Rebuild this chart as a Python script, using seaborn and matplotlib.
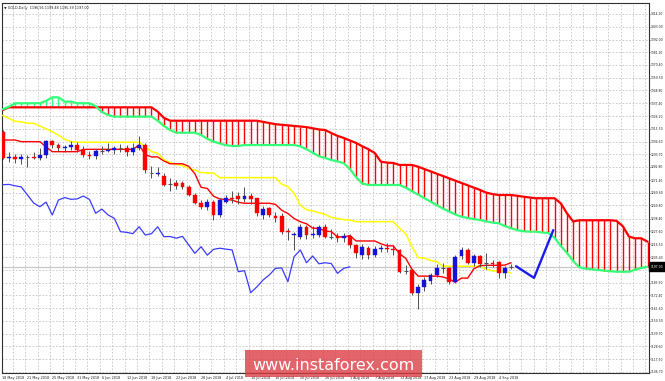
import numpy as np
import pandas as pd
import matplotlib
matplotlib.use("Agg")
import matplotlib.pyplot as plt
from matplotlib.patches import Rectangle
import seaborn as sns

sns.set_style("white")
plt.rcParams['font.family'] = ['DejaVu Sans']

# ---------------- data ----------------
dates = pd.bdate_range("2018-05-15", "2018-09-06")

opens = [1313.0, 1290.3, 1291.0, 1289.8, 1291.5, 1291.6, 1290.8, 1293.0, 1305.0, 1301.6,
         1298.8, 1299.8, 1301.4, 1297.6, 1293.3, 1292.3, 1296.6, 1296.9, 1297.6, 1299.0,
         1299.4, 1295.6, 1298.8, 1302.0, 1278.5, 1276.8, 1275.0, 1267.5, 1269.3, 1269.0,
         1265.8, 1258.7, 1252.1, 1248.6, 1252.9, 1241.5, 1253.0, 1256.0, 1257.8, 1255.3,
         1257.5, 1255.9, 1241.5, 1247.5, 1241.0, 1240.6, 1227.5, 1224.0, 1222.5, 1231.4,
         1224.3, 1224.3, 1231.4, 1222.9, 1223.2, 1221.6, 1223.5, 1215.8, 1207.0, 1213.4,
         1207.0, 1212.0, 1213.0, 1212.2, 1211.5, 1193.5, 1194.3, 1174.5, 1180.0, 1184.5,
         1190.0, 1195.5, 1195.7, 1184.2, 1206.3, 1211.5, 1200.5, 1206.3, 1200.0, 1200.5,
         1201.4, 1191.4, 1196.56]
highs = [1314.5, 1295.5, 1293.8, 1294.0, 1293.0, 1296.0, 1299.0, 1306.0, 1306.2, 1303.5,
         1301.5, 1305.0, 1304.5, 1300.5, 1296.5, 1298.0, 1301.0, 1303.5, 1301.2, 1302.5,
         1302.0, 1303.0, 1309.2, 1303.0, 1284.0, 1282.5, 1277.8, 1273.0, 1272.0, 1271.0,
         1267.5, 1260.0, 1254.0, 1255.0, 1254.5, 1256.0, 1258.5, 1262.0, 1261.0, 1265.6,
         1260.0, 1256.5, 1249.0, 1248.5, 1244.0, 1243.0, 1230.0, 1227.0, 1233.5, 1233.0,
         1232.0, 1233.0, 1234.0, 1229.5, 1226.0, 1226.0, 1225.0, 1217.0, 1217.0, 1215.0,
         1214.6, 1216.0, 1217.5, 1216.0, 1212.5, 1198.5, 1195.5, 1182.5, 1188.0, 1191.5,
         1199.0, 1200.5, 1197.0, 1207.0, 1214.0, 1213.5, 1208.0, 1207.5, 1208.6, 1203.0,
         1202.0, 1197.5, 1199.48]
lows = [1289.5, 1286.8, 1286.5, 1285.5, 1282.5, 1289.5, 1288.5, 1290.8, 1298.8, 1296.5,
        1295.5, 1297.0, 1296.0, 1290.9, 1289.5, 1290.0, 1294.2, 1295.5, 1293.8, 1295.6,
        1292.5, 1293.2, 1297.0, 1277.6, 1273.5, 1275.0, 1266.5, 1261.8, 1264.0, 1264.0,
        1257.5, 1250.8, 1246.5, 1246.0, 1237.5, 1240.0, 1251.5, 1252.0, 1251.0, 1252.8,
        1250.6, 1240.5, 1237.8, 1239.5, 1235.5, 1225.5, 1220.0, 1211.4, 1220.5, 1221.0,
        1222.0, 1222.5, 1221.6, 1221.0, 1218.5, 1218.0, 1213.5, 1204.5, 1204.0, 1204.0,
        1205.5, 1210.0, 1209.5, 1207.0, 1191.5, 1191.0, 1172.5, 1160.5, 1176.5, 1182.0,
        1188.5, 1191.5, 1182.5, 1183.0, 1204.0, 1199.0, 1197.5, 1196.5, 1195.5, 1197.0,
        1187.5, 1187.0, 1195.39]
closes = [1290.3, 1291.0, 1289.8, 1291.5, 1291.6, 1290.8, 1293.0, 1305.0, 1301.6, 1298.8,
          1299.8, 1301.4, 1297.4, 1293.3, 1292.3, 1296.6, 1296.9, 1297.6, 1299.0, 1299.2,
          1295.6, 1298.8, 1302.0, 1280.2, 1278.0, 1277.9, 1267.5, 1267.8, 1266.6, 1265.6,
          1258.7, 1251.8, 1248.6, 1252.6, 1241.5, 1254.4, 1256.5, 1255.0, 1255.3, 1257.8,
          1254.9, 1243.0, 1246.6, 1241.5, 1238.7, 1227.2, 1226.6, 1225.5, 1231.4, 1224.3,
          1225.5, 1231.4, 1222.9, 1223.0, 1221.6, 1223.2, 1215.8, 1208.6, 1214.3, 1207.0,
          1212.0, 1213.0, 1212.2, 1211.5, 1192.8, 1193.7, 1174.8, 1179.8, 1185.7, 1190.0,
          1195.7, 1196.0, 1184.2, 1205.7, 1211.5, 1200.5, 1206.3, 1199.6, 1200.5, 1199.8,
          1191.4, 1195.7, 1197.00]

tenkan = [1305.9, 1305.9, 1305.9, 1304.5, 1304.5, 1304.5, 1304.5, 1300.0, 1295.9, 1295.9,
          1295.9, 1295.9, 1295.9, 1297.9, 1297.9, 1297.9, 1297.9, 1297.9, 1297.9, 1297.9,
          1297.9, 1297.9, 1301.6, 1293.4, 1291.4, 1291.4, 1287.9, 1285.5, 1285.5, 1285.5,
          1283.4, 1276.9, 1265.3, 1264.3, 1257.7, 1255.3, 1254.8, 1254.3, 1252.5, 1251.6,
          1251.6, 1251.6, 1251.6, 1251.6, 1250.6, 1245.6, 1242.8, 1238.5, 1235.7, 1234.0,
          1230.2, 1230.0, 1227.7, 1227.2, 1222.7, 1222.7, 1223.8, 1219.2, 1219.2, 1219.2,
          1219.2, 1216.8, 1215.0, 1215.0, 1208.3, 1204.3, 1195.0, 1189.0, 1189.0, 1189.0,
          1189.0, 1188.3, 1186.5, 1183.8, 1187.3, 1187.3, 1195.3, 1198.0, 1198.3, 1198.3,
          1198.3, 1198.5, 1200.5]
kijun = [1327.0, 1324.5, 1322.0, 1321.5, 1320.3, 1320.3, 1318.0, 1315.5, 1313.1, 1310.0,
         1306.5, 1304.5, 1304.0, 1304.0, 1304.0, 1304.0, 1304.0, 1304.0, 1304.0, 1304.0,
         1304.0, 1304.0, 1304.0, 1300.0, 1296.0, 1294.5, 1289.0, 1286.5, 1285.0, 1284.0,
         1281.6, 1280.0, 1278.0, 1277.6, 1277.6, 1273.6, 1273.6, 1273.6, 1273.6, 1273.6,
         1273.6, 1273.6, 1273.6, 1273.6, 1273.6, 1268.0, 1265.8, 1260.0, 1250.0, 1246.0,
         1245.0, 1243.5, 1242.0, 1239.5, 1238.5, 1237.5, 1237.2, 1235.8, 1235.8, 1235.8,
         1235.8, 1235.8, 1235.8, 1235.8, 1230.1, 1225.5, 1214.5, 1205.0, 1204.5, 1202.5,
         1201.5, 1197.5, 1197.5, 1197.5, 1197.5, 1197.5, 1197.5, 1197.5, 1195.0, 1193.5,
         1193.5, 1193.5, 1191.4]

# Senkou spans as drawn (already shifted 26 bars forward), bar positions 0..104
span_a = [1332.3, 1334.5, 1337.5, 1337.5, 1337.5, 1337.5, 1337.5, 1339.5, 1342.6, 1342.6,
          1338.9, 1338.9, 1337.5, 1337.5, 1337.5, 1335.0, 1330.0, 1327.4, 1326.0, 1326.0,
          1326.0, 1326.0, 1326.0, 1326.0, 1326.0, 1322.5, 1318.0, 1314.5, 1312.2, 1312.2,
          1312.2, 1312.2, 1310.2, 1307.0, 1304.5, 1303.0, 1301.5, 1300.8, 1300.8, 1301.6,
          1301.6, 1301.6, 1301.6, 1301.6, 1301.6, 1301.6, 1301.6, 1301.6, 1300.5, 1298.0,
          1295.0, 1292.0, 1290.5, 1288.8, 1287.5, 1286.0, 1281.0, 1274.0, 1268.5, 1267.3,
          1267.3, 1267.3, 1267.3, 1267.3, 1267.3, 1265.0, 1262.0, 1259.0, 1256.0, 1253.0,
          1250.0, 1247.0, 1244.5, 1242.0, 1240.0, 1239.0, 1238.0, 1237.2, 1236.0, 1235.0,
          1234.4, 1232.0, 1230.1, 1228.5, 1227.5, 1227.2, 1227.2, 1226.5, 1226.0, 1222.0,
          1215.0, 1209.0, 1202.0, 1196.6, 1195.5, 1194.9, 1194.3, 1193.7, 1193.2, 1192.8,
          1192.8, 1192.8, 1194.5, 1196.0, 1197.0]
span_b = [1331.7, 1334.0, 1334.0, 1334.0, 1334.0, 1334.0, 1334.0, 1334.0, 1334.0, 1334.0,
          1334.0, 1334.0, 1334.0, 1334.0, 1334.0, 1334.0, 1334.0, 1334.0, 1334.0, 1334.0,
          1334.0, 1334.0, 1334.0, 1334.0, 1334.0, 1330.3, 1325.0, 1322.5, 1322.5, 1322.5,
          1322.5, 1322.5, 1322.5, 1322.5, 1322.5, 1322.5, 1322.5, 1322.5, 1322.5, 1322.5,
          1322.5, 1322.5, 1321.5, 1320.5, 1319.5, 1319.0, 1318.5, 1318.0, 1317.5, 1317.0,
          1316.0, 1315.0, 1314.5, 1311.9, 1309.5, 1307.7, 1305.5, 1303.4, 1300.5, 1298.0,
          1294.8, 1287.3, 1286.5, 1286.2, 1284.5, 1284.5, 1284.5, 1283.0, 1281.0, 1279.0,
          1277.0, 1275.0, 1273.0, 1271.0, 1269.0, 1267.0, 1265.0, 1263.0, 1260.7, 1259.5,
          1258.7, 1258.7, 1258.7, 1258.0, 1257.2, 1256.5, 1255.9, 1255.9, 1255.9, 1255.9,
          1251.6, 1243.0, 1236.0, 1237.0, 1237.0, 1237.0, 1237.0, 1237.0, 1237.0, 1236.5,
          1232.0, 1223.0, 1221.5, 1221.5, 1218.6]

# analyst's projection drawing (bar position, price)
proj_pos = [82.8, 85.7, 88.8]
proj_price = [1197.5, 1187.5, 1228.5]

price_ticks = [1414.20, 1403.00, 1392.00, 1381.20, 1370.40, 1359.50, 1348.80, 1337.40,
               1326.20, 1315.50, 1304.60, 1293.70, 1282.80, 1271.40, 1260.60, 1249.80,
               1238.40, 1227.60, 1216.50, 1205.40, 1194.30, 1183.50, 1172.40, 1161.60,
               1150.50, 1139.70, 1128.60, 1117.50, 1106.70]
current_price = 1197.00
title_text = "GOLD,Daily  1196.56 1199.48 1195.39 1197.00"

# ---------------- figure ----------------
W, H = 665, 381
fig = plt.figure(figsize=(W / 100, H / 100), dpi=100)
fig.patch.set_facecolor("white")
ax = fig.add_axes([2 / W, 8 / H, 647 / W, 370 / H])
ax.set_facecolor("white")

n = len(closes)
pos = np.arange(n)
o = np.array(opens); c = np.array(closes); h = np.array(highs); l = np.array(lows)

XMIN, XMAX = -0.11, 104.24
YMIN, YMAX = 1105.8, 1423.6

# grid
grid_kw = dict(color="#c4c4c4", lw=0.6, linestyle=(0, (2, 2)), zorder=0)
for p in price_ticks:
    ax.axhline(p, **grid_kw)
for gx in np.arange(1.65, XMAX, 2.0):
    ax.axvline(gx, **grid_kw)

# current price line
ax.axhline(current_price, color="#c8c8c8", lw=0.9, zorder=1)

# cloud hatching
sa = np.array(span_a); sb = np.array(span_b)
cpos = np.arange(len(sa))
hatch_col = np.where(sb >= sa, "#ff0000", "#33ff77")
ax.vlines(cpos, np.minimum(sa, sb), np.maximum(sa, sb), colors=hatch_col, lw=1.0, zorder=2)

line_kw = dict(ax=ax, estimator=None, sort=False, legend=False)
sns.lineplot(x=cpos, y=sb, color="#ff0000", lw=1.6, zorder=3, **line_kw)
sns.lineplot(x=cpos, y=sa, color="#33ff77", lw=1.6, zorder=3, **line_kw)

# chikou (close shifted back 26 bars)
chikou = c[26:]
sns.lineplot(x=pos[:len(chikou)], y=chikou, color="#3b3bff", lw=0.9, zorder=3, **line_kw)
# kijun / tenkan
sns.lineplot(x=pos, y=kijun, color="#ffff00", lw=1.1, zorder=4, **line_kw)
sns.lineplot(x=pos, y=tenkan, color="#ff0000", lw=1.0, zorder=4, **line_kw)

# candles
wick_col = "#505050"
ax.vlines(pos, l, h, colors=wick_col, lw=0.7, zorder=5)
bw = 0.62
up = c > o + 0.6
dn = c < o - 0.6
dj = ~(up | dn)
ax.bar(pos[up], (c - o)[up], bottom=o[up], width=bw, color="#1414d8", edgecolor="#1414d8", lw=0.3, zorder=6)
ax.bar(pos[dn], (o - c)[dn], bottom=c[dn], width=bw, color="#ff0000", edgecolor="#ff0000", lw=0.3, zorder=6)
ax.hlines(c[dj], pos[dj] - bw / 2, pos[dj] + bw / 2, colors=wick_col, lw=0.8, zorder=6)

# projection drawing
sns.lineplot(x=proj_pos, y=proj_price, color="#1a1aee", lw=1.7, zorder=7, **line_kw)

ax.set_xlim(XMIN, XMAX)
ax.set_ylim(YMIN, YMAX)
ax.set_xlabel(""); ax.set_ylabel("")

# axes styling
for s in ax.spines.values():
    s.set_color("#303030"); s.set_linewidth(0.8)

FS = 2.2
ax.yaxis.tick_right()
ax.set_yticks(price_ticks)
ylabels = ["" if abs(p - 1194.30) < 0.01 else f"{p:.2f}" for p in price_ticks]
ax.set_yticklabels(ylabels)
ax.tick_params(axis="y", labelsize=FS, length=1.0, width=0.5, pad=0.4, colors="#202020")

xt = [XMIN] + list(range(4, n, 4))
xl = ["18 May 2018"] + [f"{dates[i].day} {dates[i].strftime('%b %Y')}" for i in range(4, n, 4)]
ax.set_xticks(xt)
ax.set_xticklabels(xl, ha="left")
ax.tick_params(axis="x", labelsize=2.4, length=2, width=0.5, pad=0.5, colors="#202020")

# title
ax.text(0.003, 0.993, "\u25BC " + title_text, transform=ax.transAxes, fontsize=2.4,
        va="top", ha="left", color="#202020")

# current price box
yc = ax.transData.transform((0, current_price))[1]
fy = fig.transFigure.inverted().transform((0, yc))[1]
fig.patches.append(Rectangle((649 / W, fy - 4.5 / H), 16 / W, 9 / H, transform=fig.transFigure,
                             facecolor="black", edgecolor="black", zorder=10))
fig.text(657 / W, fy, f"{current_price:.2f}", color="white", fontsize=FS, ha="center",
         va="center", zorder=11)

# watermark
fig.patches.append(Rectangle((245 / W, 4 / H), 177 / W, 27 / H, transform=fig.transFigure,
                             facecolor="#dc3a42", alpha=0.78, edgecolor="none", zorder=20))
fig.text(333 / W, 15 / H, "www.instaforex.com", color="white", fontsize=11.5,
         ha="center", va="center", zorder=21)

fig.savefig("out.png", dpi=100, facecolor="white")
